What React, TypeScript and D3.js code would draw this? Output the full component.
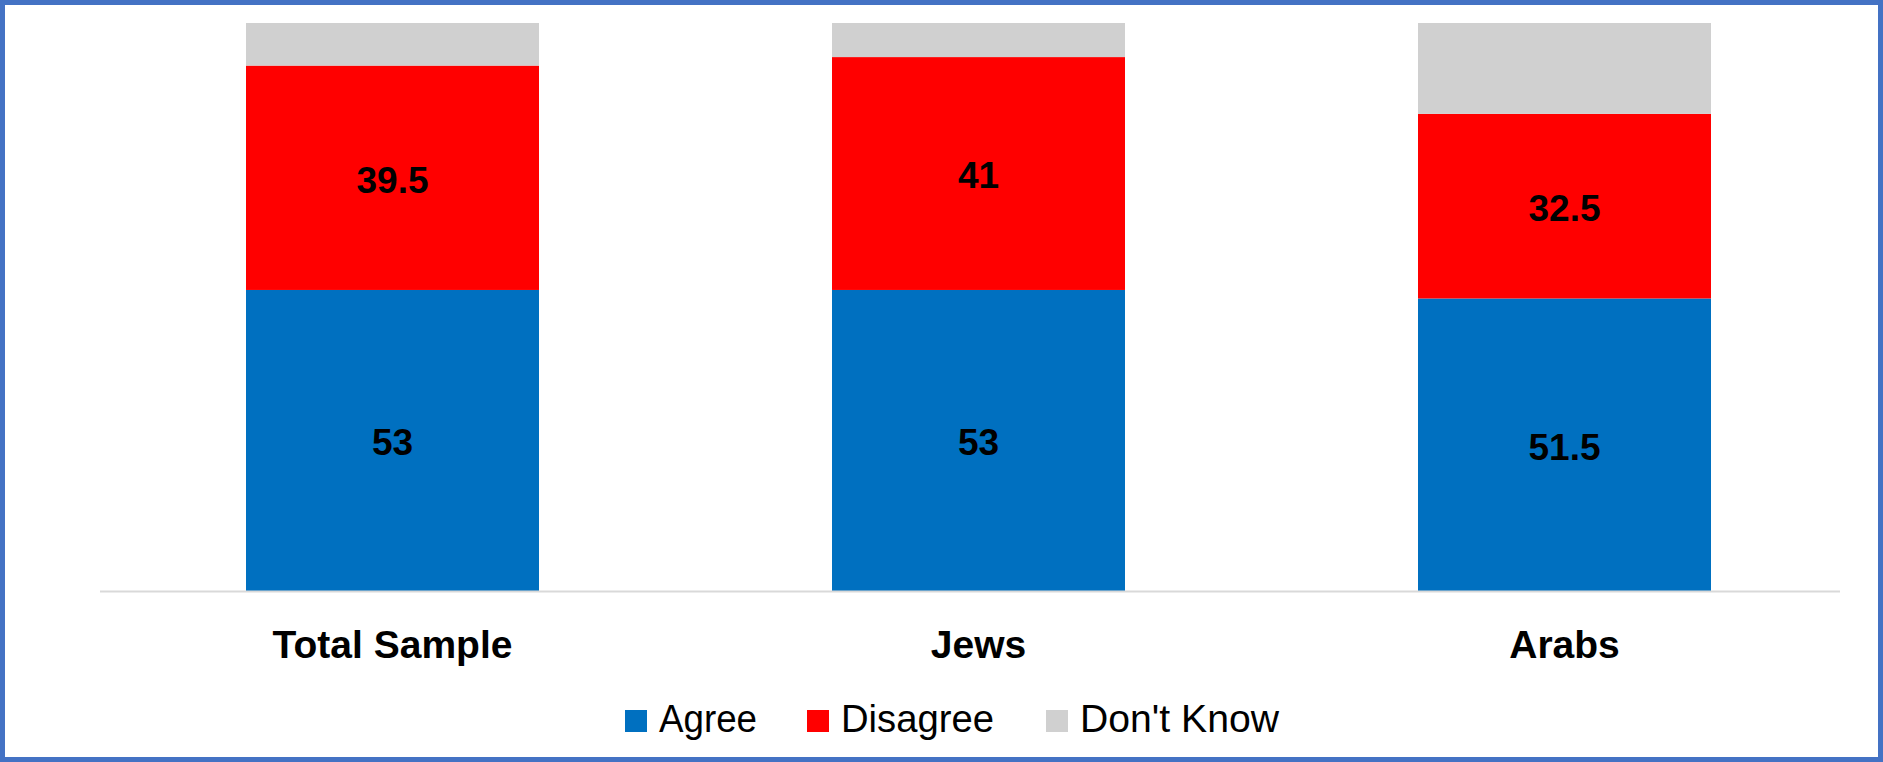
import React, { useEffect, useRef } from 'react';
import * as d3 from 'd3';

const categories = ['Total Sample', 'Jews', 'Arabs'];
const seriesNames = ['Agree', 'Disagree', "Don't Know"];
const agree = [53, 53, 51.5];
const disagree = [39.5, 41, 32.5];
const dontKnow = [7.5, 6, 16];
const colors = ['#0070C0', '#FF0000', '#D0D0D0'];

const W = 1883;
const H = 762;

const App = () => {
  const chartRef = useRef<SVGSVGElement>(null);

  useEffect(() => {
    drawChart();
  }, []);

  const drawChart = () => {
    const svg = d3.select(chartRef.current);
    svg.selectAll('*').remove();

    const rows = categories.map((c, i) => ({
      category: c,
      Agree: agree[i],
      Disagree: disagree[i],
      "Don't Know": dontKnow[i]
    }));

    const stack = d3.stack<any>().keys(seriesNames);
    const layers = stack(rows);

    const x = d3
      .scaleBand()
      .domain(categories)
      .range([99.5, 1857.5])
      .paddingInner(0.5)
      .paddingOuter(0.25);

    const y = d3.scaleLinear().domain([0, 100]).range([591, 23]);

    const color = d3.scaleOrdinal<string>().domain(seriesNames).range(colors);

    svg
      .append('rect')
      .attr('x', 2.5)
      .attr('y', 2.5)
      .attr('width', W - 5)
      .attr('height', H - 5)
      .attr('fill', '#fff')
      .attr('stroke', '#4472C4')
      .attr('stroke-width', 5);

    const g = svg
      .selectAll('.layer')
      .data(layers)
      .enter()
      .append('g')
      .attr('class', 'layer')
      .attr('fill', d => color(d.key));

    g.selectAll('rect')
      .data(d => d)
      .enter()
      .append('rect')
      .attr('x', d => x(d.data.category)!)
      .attr('y', d => y(d[1]))
      .attr('width', x.bandwidth())
      .attr('height', d => y(d[0]) - y(d[1]));

    // axis line
    svg
      .append('line')
      .attr('x1', 100)
      .attr('x2', 1840)
      .attr('y1', y(0) + 0.5)
      .attr('y2', y(0) + 0.5)
      .attr('stroke', '#D9D9D9')
      .attr('stroke-width', 2);

    // value labels for agree / disagree
    layers.slice(0, 2).forEach(layer => {
      svg
        .selectAll(null)
        .data(layer)
        .enter()
        .append('text')
        .attr('x', d => x(d.data.category)! + x.bandwidth() / 2)
        .attr('y', d => (y(d[0]) + y(d[1])) / 2)
        .attr('dy', '0.4em')
        .attr('text-anchor', 'middle')
        .attr('font-family', 'Liberation Sans, Arial, sans-serif')
        .attr('font-weight', 'bold')
        .attr('font-size', 37)
        .attr('fill', '#000')
        .text(d => String(d[1] - d[0]));
    });

    // category labels
    svg
      .selectAll('.cat')
      .data(categories)
      .enter()
      .append('text')
      .attr('class', 'cat')
      .attr('x', d => x(d)! + x.bandwidth() / 2)
      .attr('y', 658)
      .attr('text-anchor', 'middle')
      .attr('font-family', 'Liberation Sans, Arial, sans-serif')
      .attr('font-weight', 'bold')
      .attr('font-size', 39)
      .attr('fill', '#000')
      .text(d => d);

    // legend
    const legendX = [625, 807, 1046];
    const legendW = [98, 153, 199];
    const legend = svg
      .selectAll('.legend')
      .data(seriesNames)
      .enter()
      .append('g')
      .attr('class', 'legend')
      .attr('transform', (d, i) => `translate(${legendX[i]},0)`);

    legend
      .append('rect')
      .attr('x', 0)
      .attr('y', 710)
      .attr('width', 22)
      .attr('height', 22)
      .attr('fill', d => color(d));

    legend
      .append('text')
      .attr('x', 34)
      .attr('y', 732)
      .attr('font-family', 'Liberation Sans, Arial, sans-serif')
      .attr('font-size', 38)
      .attr('textLength', (d, i) => legendW[i])
      .attr('lengthAdjust', 'spacingAndGlyphs')
      .attr('fill', '#000')
      .text(d => d);
  };

  return (
    <div style={{ position: 'absolute', left: 0, top: 0 }}>
      <svg ref={chartRef} width={W} height={H} style={{ display: 'block' }}></svg>
    </div>
  );
};

export default App;
